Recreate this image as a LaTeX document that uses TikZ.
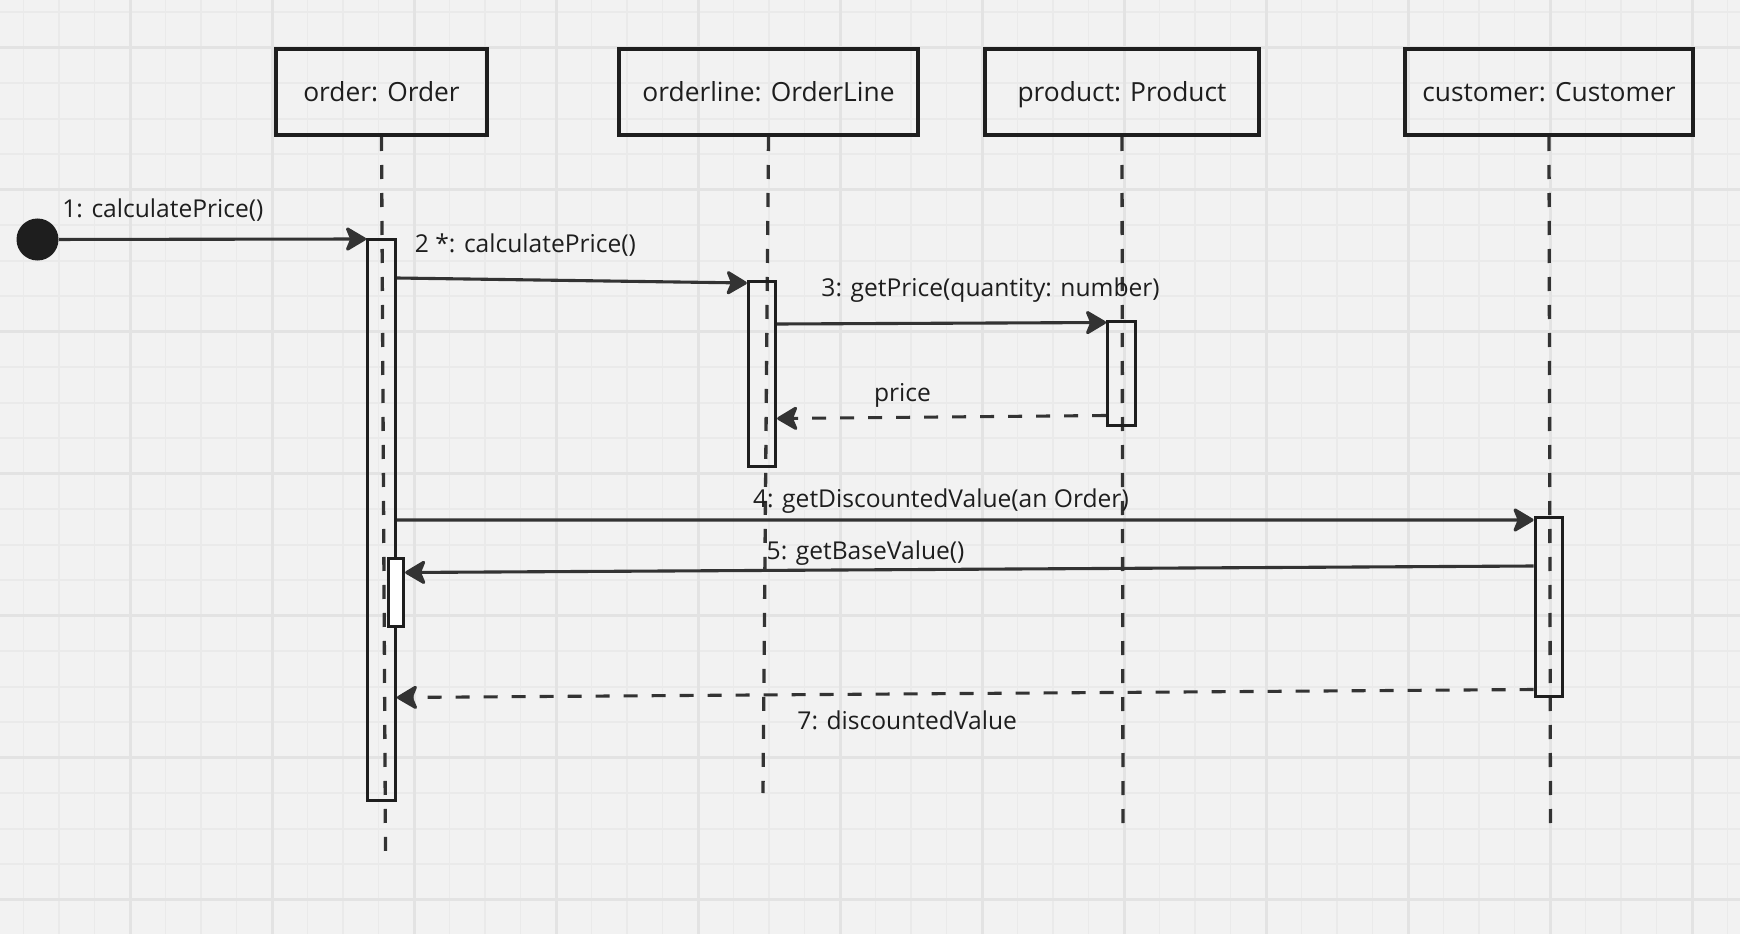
\documentclass[tikz,border=0pt]{standalone}
\usepackage{fontspec}
\setmainfont{Open Sans}
\usetikzlibrary{positioning, arrows.meta}

\definecolor{canvas}{HTML}{F2F2F2}
\definecolor{gridthin}{HTML}{EAEAEA}
\definecolor{gridthick}{HTML}{E3E3E3}
\definecolor{ink}{HTML}{1E1E1E}
\definecolor{wire}{HTML}{333333}

\tikzset{
  object/.style = {draw = ink, line width = 0.08cm, minimum width = #1, minimum height = 1.72cm,
    inner sep = 0pt, text = ink, text height = 0.5cm, text depth = 0.11cm,
    font = \fontsize{15}{18}\selectfont},
  lifeline/.style = {wire, line width = 0.066cm, dash pattern = on 0.28cm off 0.28cm},
  activation/.style = {draw = ink, line width = 0.066cm, minimum width = 0.55cm, minimum height = #1,
    inner sep = 0pt, anchor = north},
  call/.style = {wire, line width = 0.062cm, -{Stealth[length = 0.46cm, width = 0.54cm, inset = 0.11cm, round]}},
  reply/.style = {call, dash pattern = on 0.28cm off 0.28cm},
  msglabel/.style = {inner sep = 0pt, anchor = base west, text = ink, font = \fontsize{14}{17}\selectfont},
}

\begin{document}
\begin{tikzpicture}
                \useasboundingbox (0, 0) rectangle (34.8, -18.68);
                \begin{scope}
                    \clip (0, 0) rectangle (34.8, -18.68);
                    \fill [canvas] (0, 0) rectangle (34.8, -18.68);
                    \draw [gridthin, line width = 0.035cm, shift = {(2.6, -0.954)}, step = 0.71] (-3, -18) grid (33, 1);
                    \draw [gridthick, line width = 0.06cm, shift = {(2.6, -0.954)}, step = 2.84] (-3, -18) grid (33, 1);
                \end{scope}

                \node [object = 4.22cm] (order) at (7.63, -1.84) {order: Order};
                \node [object = 5.99cm] (orderline) at (15.37, -1.84) {orderline: OrderLine};
                \node [object = 5.48cm] (product) at (22.44, -1.84) {product: Product};
                \node [object = 5.76cm] (customer) at (30.98, -1.84) {customer: Customer};

                \coordinate (orderend) at (7.71, -17.02);
                \coordinate (orderlineend) at (15.26, -15.86);
                \coordinate (productend) at (22.46, -16.58);
                \coordinate (customerend) at (31.01, -16.64);

                \draw [lifeline] (order.south) -- (orderend);
                \draw [lifeline] (orderline.south) -- (orderlineend);
                \draw [lifeline] (product.south) -- (productend);
                \draw [lifeline] (customer.south) -- (customerend);

                \node [activation = 11.22cm] (orderact) at (7.63, -4.76) {};
                \node [activation = 1.36cm, minimum width = 0.3cm, fill = white] (nestact) at (7.92, -11.14) {};
                \node [activation = 3.7cm, minimum width = 0.54cm] (olact) at (15.24, -5.6) {};
                \node [activation = 2.08cm] (prodact) at (22.43, -6.4) {};
                \node [activation = 3.58cm] (custact) at (30.98, -10.32) {};

                \node [circle, fill = ink, minimum size = 0.84cm, inner sep = 0pt] (start) at (0.75, -4.79) {};

                \draw [call] (start) -- ([yshift = -0.02cm] orderact.north west)
                    node [msglabel, pos = 0, xshift = 0.04cm, yshift = 0.43cm] (call1) {1: calculatePrice()};
                \draw [call] ([yshift = -0.8cm] orderact.north east) -- ([yshift = -0.06cm] olact.north west)
                    node [msglabel, pos = 0.047, yshift = 0.52cm] (call2) {2 *: calculatePrice()};
                \draw [call] ([yshift = -0.88cm] olact.north east) -- ([yshift = -0.05cm] prodact.north west)
                    node [msglabel, pos = 0.13, yshift = 0.54cm] (call3) {3: getPrice(quantity: number)};
                \draw [reply] ([yshift = -1.91cm] prodact.north west) -- ([yshift = -2.77cm] olact.north east)
                    node [msglabel, pos = 0.71, yshift = 0.33cm] (price) {price};
                \draw [call] ([yshift = -5.64cm] orderact.north east) -- ([yshift = -0.08cm] custact.north west)
                    node [msglabel, pos = 0.312, yshift = 0.26cm] (call4) {4: getDiscountedValue(an Order)};
                \draw [call] ([yshift = -1.0cm] custact.north west) -- ([yshift = -0.31cm] nestact.north east)
                    node [msglabel, pos = 0.681, yshift = 0.22cm] (call5) {5: getBaseValue()};
                \draw [reply] ([yshift = -3.47cm] custact.north west) -- ([yshift = -9.19cm] orderact.north east)
                    node [msglabel, pos = 0.649, yshift = -0.7cm] (reply7) {7: discountedValue};
            \end{tikzpicture}
\end{document}
